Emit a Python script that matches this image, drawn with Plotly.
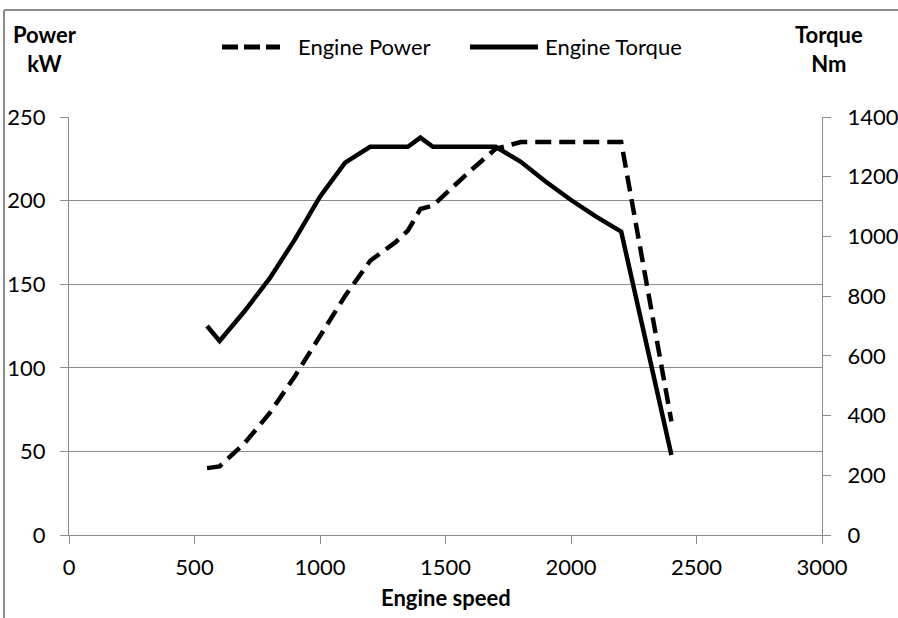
import plotly.graph_objects as go

speed = [550, 600, 700, 800, 900, 1000, 1100, 1200, 1300, 1350, 1400, 1450, 1500, 1600, 1700, 1800, 1900, 2000, 2100, 2200, 2400]
power = [40, 41, 55, 73, 95, 119, 143, 164, 175, 182, 195, 197, 204, 218, 231, 235, 235, 235, 235, 235, 68]
torque = [700, 650, 750, 860, 990, 1133, 1247, 1300, 1300, 1300, 1331, 1300, 1300, 1300, 1300, 1250, 1183, 1122, 1066, 1016, 268]

x_ticks = [0, 500, 1000, 1500, 2000, 2500, 3000]
power_ticks = [0, 50, 100, 150, 200, 250]
torque_ticks = [0, 200, 400, 600, 800, 1000, 1200, 1400]

FONT = "Lato, 'Open Sans', sans-serif"
GRID = "#8c8c8c"
FS = 22
DASH = "16px,8px"

fig = go.Figure()
fig.add_trace(go.Scatter(x=speed, y=power, name="Engine Power", mode="lines",
                         line=dict(color="black", width=4.5, dash=DASH)))
fig.add_trace(go.Scatter(x=speed, y=torque, name="Engine Torque", mode="lines", yaxis="y2",
                         line=dict(color="black", width=4.5)))

axis_common = dict(zeroline=False, showline=True, linecolor=GRID, linewidth=1,
                   ticks="outside", ticklen=8, tickcolor=GRID, tickfont=dict(size=FS),
                   automargin=False)

legend_y = 1.1675
border_top = 1.256
border_left = -0.0863
fig.update_layout(
    width=898, height=618,
    margin=dict(l=69, r=76, t=117, b=83, autoexpand=False),
    paper_bgcolor="white", plot_bgcolor="white",
    font=dict(family=FONT, size=FS, color="black"),
    showlegend=False,
    xaxis=dict(range=[0, 3000], tickvals=x_ticks, showgrid=False, ticklabelstandoff=5, **axis_common),
    yaxis=dict(range=[0, 250], tickvals=power_ticks, showgrid=True, gridcolor=GRID, gridwidth=1,
               ticklabelstandoff=10, **axis_common),
    yaxis2=dict(range=[0, 1400], tickvals=torque_ticks, overlaying="y", side="right",
                showgrid=False, ticklabelstandoff=12, **axis_common),
    annotations=[
        dict(text="<b>Power<br>kW</b>", xref="paper", yref="paper", x=-0.032, y=1.1615,
             xanchor="center", yanchor="middle", showarrow=False, font=dict(size=FS), align="center"),
        dict(text="<b>Torque<br>Nm</b>", xref="paper", yref="paper", x=1.009, y=1.1615,
             xanchor="center", yanchor="middle", showarrow=False, font=dict(size=FS), align="center"),
        dict(text="<b>Engine speed</b>", xref="paper", yref="paper", x=0.5, y=-0.1507,
             xanchor="center", yanchor="middle", showarrow=False, font=dict(size=FS)),
        dict(text="Engine Power", xref="paper", yref="paper", x=0.3015, y=legend_y,
             xanchor="left", yanchor="middle", showarrow=False, font=dict(size=FS)),
        dict(text="Engine Torque", xref="paper", yref="paper", x=0.6295, y=legend_y,
             xanchor="left", yanchor="middle", showarrow=False, font=dict(size=FS)),
    ],
    shapes=[
        dict(type="line", xref="paper", yref="paper", x0=border_left, x1=1.15, y0=border_top, y1=border_top,
             line=dict(color="#8c8c8c", width=2), layer="above"),
        dict(type="line", xref="paper", yref="paper", x0=border_left, x1=border_left, y0=-0.25, y1=border_top,
             line=dict(color="#8c8c8c", width=2), layer="above"),
        dict(type="line", xref="paper", yref="paper", x0=0.2032, x1=0.2802, y0=legend_y, y1=legend_y,
             line=dict(color="black", width=5, dash="16px,6px")),
        dict(type="line", xref="paper", yref="paper", x0=0.5325, x1=0.6228, y0=legend_y, y1=legend_y,
             line=dict(color="black", width=5)),
    ],
)

fig.write_html("out.html", config={"displayModeBar": False},
               post_script="document.body.style.margin='0px';document.body.style.overflow='hidden';")
